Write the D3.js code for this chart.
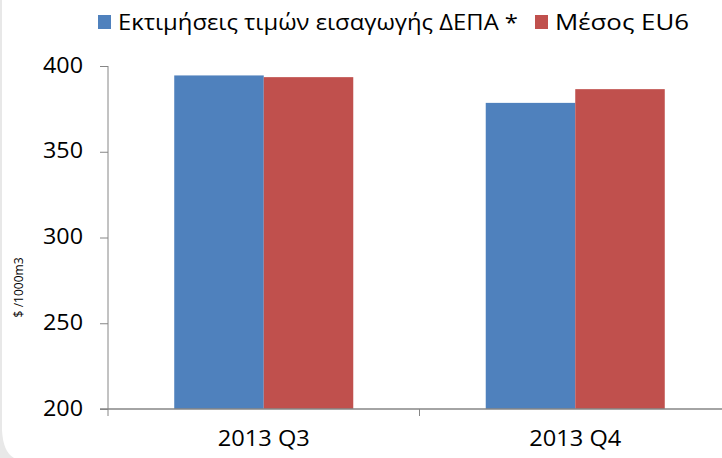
<!DOCTYPE html>
<html>
<head>
<meta charset="utf-8">
<script src="https://cdn.jsdelivr.net/npm/d3@7"></script>
<style>
  html, body { margin: 0; padding: 0; background: #fff; }
  svg { display: block; }
</style>
</head>
<body>
<svg id="chart" width="722" height="458"></svg>
<script>
const categories = ['2013 Q3', '2013 Q4'];
const seriesNames = ['Εκτιμήσεις τιμών εισαγωγής ΔΕΠΑ *', 'Μέσος EU6'];
const depaValues = [394.5, 378.5];
const eu6Values = [393.5, 386.5];
const yTicks = [200, 250, 300, 350, 400];
const yTitle = '$ /1000m3';

const colors = ['#4f81bd', '#c0504d'];
const font = "'Open Sans', 'Noto Sans', sans-serif";
const width = 722;
const height = 458;
const margin = { top: 66, left: 108, bottom: 49 };

const svg = d3.select('#chart');

// thin grey frame edge on the left with rounded bottom corner
svg.append('path')
  .attr('d', 'M0,0 L2,0 L2,430 Q3,452 14,458 L0,458 Z')
  .attr('fill', '#e8e8e8');

const data = categories.map((c, i) => ({ cat: c, values: [depaValues[i], eu6Values[i]] }));

const x0 = d3.scaleBand()
  .domain(categories)
  .range([margin.left, 731])
  .padding(0);

const x1 = d3.scaleBand()
  .domain([0, 1])
  .range([0, x0.bandwidth()])
  .paddingInner(0)
  .paddingOuter(0.74);

const y = d3.scaleLinear()
  .domain([200, 400])
  .range([height - margin.bottom, margin.top]);

// bars
const groups = svg.append('g')
  .selectAll('g')
  .data(data)
  .join('g')
  .attr('transform', d => `translate(${x0(d.cat)},0)`);

groups.selectAll('rect')
  .data(d => d.values.map((v, i) => ({ v, i })))
  .join('rect')
  .attr('x', d => x1(d.i))
  .attr('width', x1.bandwidth())
  .attr('y', d => y(d.v))
  .attr('height', d => y(200) - y(d.v))
  .attr('fill', d => colors[d.i]);

// y axis
const yAxis = g => g
  .attr('transform', `translate(${margin.left},0)`)
  .call(d3.axisLeft(y).tickValues(yTicks).tickSize(8).tickPadding(17))
  .call(g => g.selectAll('.tick line').attr('stroke', '#868686'))
  .call(g => g.select('.domain').attr('stroke', '#868686').attr('d', `M0,${y(200)}V${y(400)}`))
  .call(g => g.selectAll('.tick text')
    .attr('fill', '#000')
    .attr('font-family', font)
    .attr('font-size', 22)
    .attr('textLength', 40)
    .attr('lengthAdjust', 'spacingAndGlyphs')
    .attr('dy', '0.28em'));

svg.append('g').call(yAxis);

// x axis
const xAxis = g => g
  .attr('transform', `translate(0,${y(200)})`)
  .call(d3.axisBottom(x0).tickSize(0).tickPadding(21))
  .call(g => g.select('.domain').attr('stroke', '#868686').attr('stroke-width', 1.5)
    .attr('d', `M${margin.left - 8},0H${width}`))
  .call(g => g.selectAll('.tick text')
    .attr('fill', '#000')
    .attr('font-family', font)
    .attr('font-size', 22)
    .attr('textLength', 92)
    .attr('lengthAdjust', 'spacingAndGlyphs'));

svg.append('g').call(xAxis);

// category boundary ticks
svg.append('g')
  .selectAll('line')
  .data(categories)
  .join('line')
  .attr('x1', d => x0(d))
  .attr('x2', d => x0(d))
  .attr('y1', y(200))
  .attr('y2', y(200) + 7)
  .attr('stroke', '#868686');

// y axis title
svg.append('text')
  .attr('transform', `translate(23,${(y(250) + y(300)) / 2 + 7}) rotate(-90)`)
  .attr('text-anchor', 'middle')
  .attr('font-family', font)
  .attr('font-size', 13)
  .attr('fill', '#000')
  .attr('textLength', 60)
  .attr('lengthAdjust', 'spacingAndGlyphs')
  .text(yTitle);

// legend
const legendItems = [
  { name: seriesNames[0], color: colors[0], x: 98, len: 400 },
  { name: seriesNames[1], color: colors[1], x: 535, len: 134 }
];

const legend = svg.append('g')
  .selectAll('g')
  .data(legendItems)
  .join('g')
  .attr('transform', d => `translate(${d.x},0)`);

legend.append('rect')
  .attr('y', 15)
  .attr('width', 13)
  .attr('height', 14)
  .attr('fill', d => d.color);

legend.append('text')
  .attr('x', 20)
  .attr('y', 30)
  .attr('font-family', font)
  .attr('font-size', 22)
  .attr('fill', '#000')
  .attr('textLength', d => d.len)
  .attr('lengthAdjust', 'spacingAndGlyphs')
  .text(d => d.name);
</script>
</body>
</html>
